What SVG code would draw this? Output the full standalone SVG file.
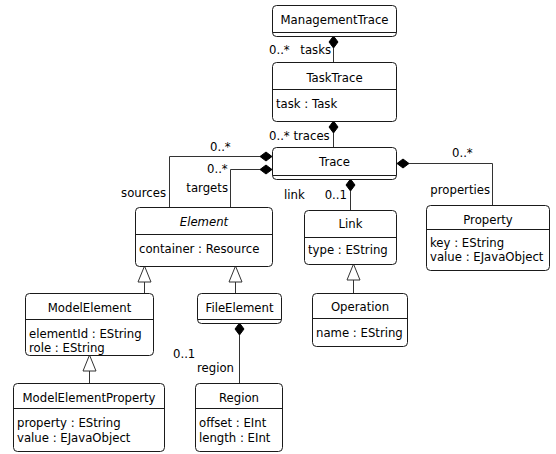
<svg xmlns="http://www.w3.org/2000/svg" width="556" height="454" viewBox="0 0 556 454">
<style>
  .box { fill: #ffffff; stroke: #1a1a1a; stroke-width: 1; }
  .sep { stroke: #1a1a1a; stroke-width: 1; fill: none; }
  .edge { stroke: #333333; stroke-width: 1; fill: none; }
  .comp { fill: #000000; stroke: #000000; stroke-width: 1; }
  .gen { fill: #ffffff; stroke: #333333; stroke-width: 1; }
  text { font-family: "DejaVu Sans", "Liberation Sans", sans-serif; font-size: 11.7px; fill: #000000; }
  .title { text-anchor: middle; }
  .abs { font-style: italic; }
  .end { text-anchor: end; }
</style>
<rect x="0" y="0" width="556" height="454" fill="#ffffff"/>

<g id="connectors">
  <!-- ManagementTrace tasks -> TaskTrace -->
  <line class="edge" x1="333.5" y1="48" x2="333.5" y2="62"/>
  <polygon class="comp" points="333.5,36 338,42 333.5,48 329,42"/>
  <text x="269" y="54">0..*</text>
  <text class="end" x="331" y="54">tasks</text>
  <!-- TaskTrace traces -> Trace -->
  <line class="edge" x1="333.5" y1="133" x2="333.5" y2="147"/>
  <polygon class="comp" points="333.5,121 338,127 333.5,133 329,127"/>
  <text x="269" y="140">0..* traces</text>
  <!-- Trace sources -> Element -->
  <polyline class="edge" points="260,156.5 169.5,156.5 169.5,207"/>
  <polygon class="comp" points="272,156.5 266,161 260,156.5 266,152"/>
  <text x="210" y="151">0..*</text>
  <text class="end" x="166" y="197">sources</text>
  <!-- Trace targets -> Element -->
  <polyline class="edge" points="260,169.5 230.5,169.5 230.5,207"/>
  <polygon class="comp" points="272,169.5 266,174 260,169.5 266,165"/>
  <text x="207" y="173">0..*</text>
  <text class="end" x="228" y="192">targets</text>
  <!-- Trace link -> Link -->
  <line class="edge" x1="350.5" y1="191" x2="350.5" y2="210"/>
  <polygon class="comp" points="350.5,179 355,185 350.5,191 346,185"/>
  <text x="284" y="199">link</text>
  <text class="end" x="347" y="199">0..1</text>
  <!-- Trace properties -> Property -->
  <polyline class="edge" points="409,163.5 492.5,163.5 492.5,205"/>
  <polygon class="comp" points="397,163.5 403,159 409,163.5 403,168"/>
  <text x="452" y="157">0..*</text>
  <text class="end" x="490" y="194">properties</text>
  <!-- ModelElement -> Element -->
  <line class="edge" x1="144.5" y1="282" x2="144.5" y2="293"/>
  <polygon class="gen" points="144.5,266 151,282 138,282"/>
  <!-- FileElement -> Element -->
  <line class="edge" x1="235.5" y1="282" x2="235.5" y2="293"/>
  <polygon class="gen" points="235.5,266 242,282 229,282"/>
  <!-- Operation -> Link -->
  <line class="edge" x1="353.5" y1="280" x2="353.5" y2="293"/>
  <polygon class="gen" points="353.5,264 360,280 347,280"/>
  <!-- ModelElementProperty -> ModelElement -->
  <line class="edge" x1="89.5" y1="371" x2="89.5" y2="383"/>
  <polygon class="gen" points="89.5,355 96,371 83,371"/>
  <!-- FileElement region -> Region -->
  <line class="edge" x1="239.5" y1="335" x2="239.5" y2="383"/>
  <polygon class="comp" points="239.5,323 244,329 239.5,335 235,329"/>
  <text x="173" y="358">0..1</text>
  <text class="end" x="234" y="372">region</text>
</g>

<g id="ManagementTrace">
  <rect class="box" x="272.5" y="5.5" width="124" height="31" rx="4"/>
  <line class="sep" x1="272.5" y1="32.5" x2="396.5" y2="32.5"/>
  <text class="title" x="334.5" y="24">ManagementTrace</text>
</g>

<g id="TaskTrace">
  <rect class="box" x="272.5" y="62.5" width="124" height="59" rx="4"/>
  <line class="sep" x1="272.5" y1="89.5" x2="396.5" y2="89.5"/>
  <text class="title" x="334.5" y="82">TaskTrace</text>
  <text x="276" y="108">task : Task</text>
</g>

<g id="Trace">
  <rect class="box" x="272.5" y="147.5" width="124" height="32" rx="4"/>
  <line class="sep" x1="272.5" y1="175.5" x2="396.5" y2="175.5"/>
  <text class="title" x="334.5" y="166">Trace</text>
</g>

<g id="Element">
  <rect class="box" x="135.5" y="207.5" width="137" height="59" rx="4"/>
  <line class="sep" x1="135.5" y1="234.5" x2="272.5" y2="234.5"/>
  <text class="title abs" x="204" y="226">Element</text>
  <text x="139" y="253">container : Resource</text>
</g>

<g id="Link">
  <rect class="box" x="304.5" y="210.5" width="92" height="54" rx="4"/>
  <line class="sep" x1="304.5" y1="237.5" x2="396.5" y2="237.5"/>
  <text class="title" x="350.5" y="228">Link</text>
  <text x="308" y="254">type : EString</text>
</g>

<g id="Property">
  <rect class="box" x="426.5" y="205.5" width="123" height="65" rx="4"/>
  <line class="sep" x1="426.5" y1="229.5" x2="549.5" y2="229.5"/>
  <text class="title" x="488" y="224">Property</text>
  <text x="430" y="247">key : EString</text>
  <text x="430" y="261">value : EJavaObject</text>
</g>

<g id="ModelElement">
  <rect class="box" x="25.5" y="293.5" width="128" height="62" rx="4"/>
  <line class="sep" x1="25.5" y1="319.5" x2="153.5" y2="319.5"/>
  <text class="title" x="89.5" y="312">ModelElement</text>
  <text x="29" y="338">elementId : EString</text>
  <text x="29" y="352">role : EString</text>
</g>

<g id="FileElement">
  <rect class="box" x="197.5" y="293.5" width="84" height="30" rx="4"/>
  <line class="sep" x1="197.5" y1="319.5" x2="281.5" y2="319.5"/>
  <text class="title" x="239.5" y="312">FileElement</text>
</g>

<g id="Operation">
  <rect class="box" x="312.5" y="293.5" width="95" height="53" rx="4"/>
  <line class="sep" x1="312.5" y1="318.5" x2="407.5" y2="318.5"/>
  <text class="title" x="360" y="311">Operation</text>
  <text x="316" y="337">name : EString</text>
</g>

<g id="ModelElementProperty">
  <rect class="box" x="13.5" y="383.5" width="151" height="68" rx="4"/>
  <line class="sep" x1="13.5" y1="408.5" x2="164.5" y2="408.5"/>
  <text class="title" x="89" y="402">ModelElementProperty</text>
  <text x="17" y="427">property : EString</text>
  <text x="17" y="442">value : EJavaObject</text>
</g>

<g id="Region">
  <rect class="box" x="195.5" y="383.5" width="87" height="68" rx="4"/>
  <line class="sep" x1="195.5" y1="408.5" x2="282.5" y2="408.5"/>
  <text class="title" x="239" y="402">Region</text>
  <text x="199" y="427">offset : EInt</text>
  <text x="199" y="442">length : EInt</text>
</g>
</svg>
